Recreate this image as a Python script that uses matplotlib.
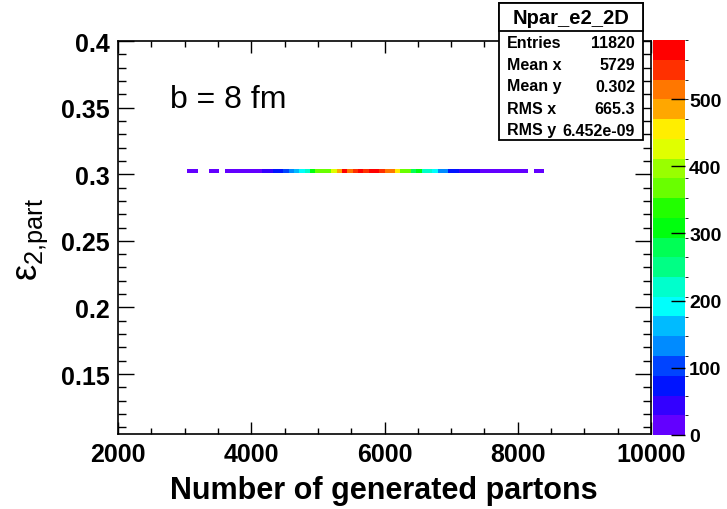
import colorsys
import numpy as np
import matplotlib
matplotlib.use("Agg")
import matplotlib.pyplot as plt
from matplotlib.colors import ListedColormap, BoundaryNorm
from matplotlib.patches import Rectangle
from matplotlib.ticker import MultipleLocator

# ---------------- data ----------------
x_range = (2000, 10000)
n_xbins = 100
y_bin = (0.301, 0.304)

# occupied x-bin indices and their contents
bin_index = [13, 14, 17, 18, 20, 21, 22, 23, 24, 25, 26,
             27, 28, 29, 30, 31, 32, 33, 34, 35, 36, 37, 38, 39, 40,
             41, 42, 43, 44, 45, 46, 47, 48, 49, 50, 51, 52, 53, 54,
             55, 56, 57, 58, 59, 60, 61, 62, 63, 64, 65, 66, 67,
             68, 69, 70, 71, 72, 73, 74, 75, 76, 78, 79]
bin_counts = [8, 10, 12, 14, 15, 17, 18, 20, 22, 25, 27,
              38, 50, 65, 80, 105, 130, 160, 190, 215, 300, 365, 370, 360, 430,
              485, 575, 515, 545, 570, 540, 588, 565, 535, 505, 510, 450, 370, 375,
              290, 300, 225, 215, 190, 135, 125, 75, 65, 50, 45, 40, 32,
              27, 24, 20, 17, 14, 12, 10, 8, 6, 3, 2]

hist_name = "Npar_e2_2D"
stats_labels = ["Entries", "Mean x", "Mean y", "RMS x", "RMS y"]
stats_values = ["11820", "5729", "0.302", "665.3", "6.452e-09"]

x_label = "Number of generated partons"
y_label = "ε$_{\\mathrm{2{,}part}}$"
annotation = "b = 8 fm"
x_ticks = [2000, 4000, 6000, 8000, 10000]
y_ticks = [0.15, 0.2, 0.25, 0.3, 0.35, 0.4]
z_ticks = [0, 100, 200, 300, 400, 500]

# ---------------- style ----------------
plt.rcParams["font.family"] = ["Liberation Sans", "DejaVu Sans"]
plt.rcParams["mathtext.fontset"] = "custom"
plt.rcParams["mathtext.rm"] = "Liberation Sans"
plt.rcParams["mathtext.it"] = "Liberation Sans:italic"

# ROOT "pretty" palette (50 colours, violet->red), 20 contour levels
pal = []
for i in range(50):
    hue = 280 - (i + 1) * 280 / 50 if i < 49 else 0
    pal.append(colorsys.hls_to_rgb(hue / 360.0, 0.5, 1.0))
level_colors = [pal[int((j + 0.99) * 50 / 20)] for j in range(20)]
cmap = ListedColormap(level_colors)
cmap.set_over(level_colors[-1])

W, H = 727, 510
fig = plt.figure(figsize=(W / 100, H / 100), dpi=100)

def fx(px):
    return px / W

def fy(py):
    return 1 - py / H

ax_l, ax_r, ax_t, ax_b = 118, 651, 42, 435
ax = fig.add_axes([fx(ax_l), fy(ax_b), fx(ax_r - ax_l), (ax_b - ax_t) / H])
cax = fig.add_axes([fx(653), fy(ax_b + 1), fx(32), (ax_b - ax_t + 2) / H])

counts = np.zeros(n_xbins)
counts[bin_index] = bin_counts
C = np.ma.masked_equal(counts.reshape(1, -1), 0)
xedges = np.linspace(x_range[0], x_range[1], n_xbins + 1)
yedges = np.array(y_bin)
zmax = max(bin_counts)
norm = BoundaryNorm(np.linspace(0, zmax, 21), 20)
mesh = ax.pcolormesh(xedges, yedges, C, cmap=cmap, norm=norm)

ax.set_xlim(*x_range)
ax.set_ylim(0.105, 0.4)
ax.set_xticks(x_ticks)
ax.set_xticklabels([str(t) for t in x_ticks])
ax.set_yticks(y_ticks)
ax.set_yticklabels([f"{t:g}" for t in y_ticks])
ax.xaxis.set_minor_locator(MultipleLocator(500))
ax.yaxis.set_minor_locator(MultipleLocator(0.01))
ax.tick_params(axis="both", which="both", direction="in", top=True, right=True,
               labelsize=18, width=1.0)
ax.tick_params(axis="x", which="major", length=8.5, pad=6)
ax.tick_params(axis="x", which="minor", length=4)
ax.tick_params(axis="y", which="major", length=11.5, pad=6)
ax.tick_params(axis="y", which="minor", length=5.75)
for lab in ax.get_xticklabels() + ax.get_yticklabels():
    lab.set_fontweight("bold")
for sp in ax.spines.values():
    sp.set_linewidth(1.2)

# colour bar
cb = fig.colorbar(mesh, cax=cax, ticks=z_ticks)
cb.outline.set_visible(False)
cax.tick_params(direction="in", length=10, width=1.0, labelsize=14, pad=3,
                right=True, left=False)
for lab in cax.get_yticklabels():
    lab.set_fontweight("bold")

# labels
fig.text(fx(384), fy(499), x_label, ha="center", va="baseline",
         fontsize=22, fontweight="bold")
fig.text(fx(33), fy(240), y_label, ha="center", va="center", rotation=90,
         fontsize=26)
fig.text(fx(170), fy(108), annotation, ha="left", va="baseline", fontsize=23)

# stats box
bx0, bx1, by0, by1, bsep = 499, 643, 4, 141, 32
fig.patches.append(Rectangle((fx(bx0), fy(by1)), fx(bx1 - bx0), (by1 - by0) / H,
                             transform=fig.transFigure, facecolor="white",
                             edgecolor="black", linewidth=1.3, zorder=5))
fig.patches.append(Rectangle((fx(bx0), fy(bsep)), fx(bx1 - bx0), (bsep - by0) / H,
                             transform=fig.transFigure, facecolor="white",
                             edgecolor="black", linewidth=1.3, zorder=5))
fig.text(fx((bx0 + bx1) / 2), fy(19), hist_name, ha="center", va="center",
         fontsize=14.5, fontweight="bold", zorder=6)
row_y = [43, 65, 87, 109, 131]
for lab, val, ry in zip(stats_labels, stats_values, row_y):
    fig.text(fx(507), fy(ry), lab, ha="left", va="center", fontsize=11.5,
             fontweight="bold", zorder=6)
    fig.text(fx(635), fy(ry), val, ha="right", va="center", fontsize=11.5,
             fontweight="bold", zorder=6)

fig.savefig("out.png", dpi=100)
